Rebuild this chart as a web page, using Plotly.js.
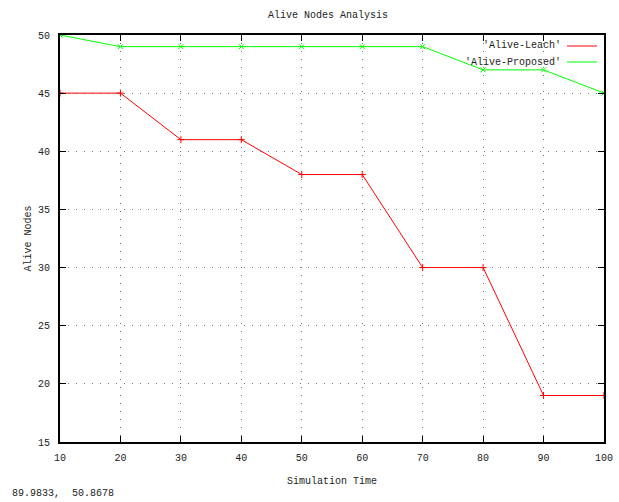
<!DOCTYPE html>
<html><head><meta charset="utf-8">
<script src="https://cdn.plot.ly/plotly-3.0.1.min.js"></script>
<style>html,body{margin:0;padding:0;background:#fff}</style>
</head><body>
<div id="chart" style="width:619px;height:502px"></div>
<script>
const times = [10, 20, 30, 40, 50, 60, 70, 80, 90, 100];
const aliveLeach = [45, 45, 41, 41, 38, 38, 30, 30, 19, 19];
const aliveProposed = [50, 49, 49, 49, 49, 49, 49, 47, 47, 45];
const seriesNames = ["'Alive-Leach'", "'Alive-Proposed'"];
const xTicks = [10, 20, 30, 40, 50, 60, 70, 80, 90, 100];
const yTicks = [15, 20, 25, 30, 35, 40, 45, 50];
const statusText = "89.9833,  50.8678";

const F = "Liberation Mono, DejaVu Sans Mono, monospace";
const traces = [
  {x: times, y: aliveLeach, name: seriesNames[0], mode: 'lines+markers',
   line: {color: '#ff0000', width: 1}, marker: {symbol: 'cross-thin-open', size: 5, line: {color: '#ff0000', width: 1}}},
  {x: times, y: aliveProposed, name: seriesNames[1], mode: 'lines+markers',
   line: {color: '#00ff00', width: 1}, marker: {symbol: 'x-thin-open', size: 5, line: {color: '#00ff00', width: 1}}}
];
const axisCommon = {
  showline: true, mirror: 'ticks', linecolor: '#000', linewidth: 2,
  ticks: 'inside', ticklen: 6, tickcolor: '#000', tickwidth: 1,
  showgrid: true, gridcolor: '#777', griddash: '1px,7px', gridwidth: 1,
  zeroline: false, tickfont: {family: F, size: 10, color: '#222'}
};
const layout = {
  width: 619, height: 502,
  margin: {l: 60, r: 15, t: 35, b: 60},
  paper_bgcolor: '#fff', plot_bgcolor: '#fff',
  showlegend: false,
  title: {text: 'Alive Nodes Analysis', font: {family: F, size: 10, color: '#222'},
          x: 0.53, xanchor: 'center', y: 1 - 14/502, yanchor: 'middle', yref: 'container'},
  xaxis: Object.assign({}, axisCommon, {range: [10, 100], tickvals: xTicks, ticklabelstandoff: 5,
    title: {text: 'Simulation Time', font: {family: F, size: 10, color: '#222'}, standoff: 14}}),
  yaxis: Object.assign({}, axisCommon, {range: [15, 50], tickvals: yTicks, ticklabelstandoff: 6,
    title: {text: 'Alive Nodes', font: {family: F, size: 10, color: '#222'}, standoff: 4}}),
  annotations: [
    {text: seriesNames[0], xref: 'paper', yref: 'paper', x: (563-60)/544, y: (442-46)/407,
     xanchor: 'right', yanchor: 'middle', showarrow: false, font: {family: F, size: 10, color: '#222'}},
    {text: seriesNames[1], xref: 'paper', yref: 'paper', x: (563-60)/544, y: (442-62)/407,
     xanchor: 'right', yanchor: 'middle', showarrow: false, font: {family: F, size: 10, color: '#222'}},
    {text: statusText, xref: 'paper', yref: 'paper', x: -50/544, y: (442-493)/407,
     xanchor: 'left', yanchor: 'middle', showarrow: false, font: {family: F, size: 10, color: '#222'}}
  ],
  shapes: [
    {type: 'line', xref: 'paper', yref: 'paper', x0: (567-60)/544, x1: (597-60)/544, y0: (442-46)/407, y1: (442-46)/407,
     line: {color: '#ff0000', width: 1}},
    {type: 'line', xref: 'paper', yref: 'paper', x0: (567-60)/544, x1: (597-60)/544, y0: (442-62)/407, y1: (442-62)/407,
     line: {color: '#00ff00', width: 1}}
  ]
};
Plotly.newPlot('chart', traces, layout, {displayModeBar: false, staticPlot: true});
</script>
</body></html>
